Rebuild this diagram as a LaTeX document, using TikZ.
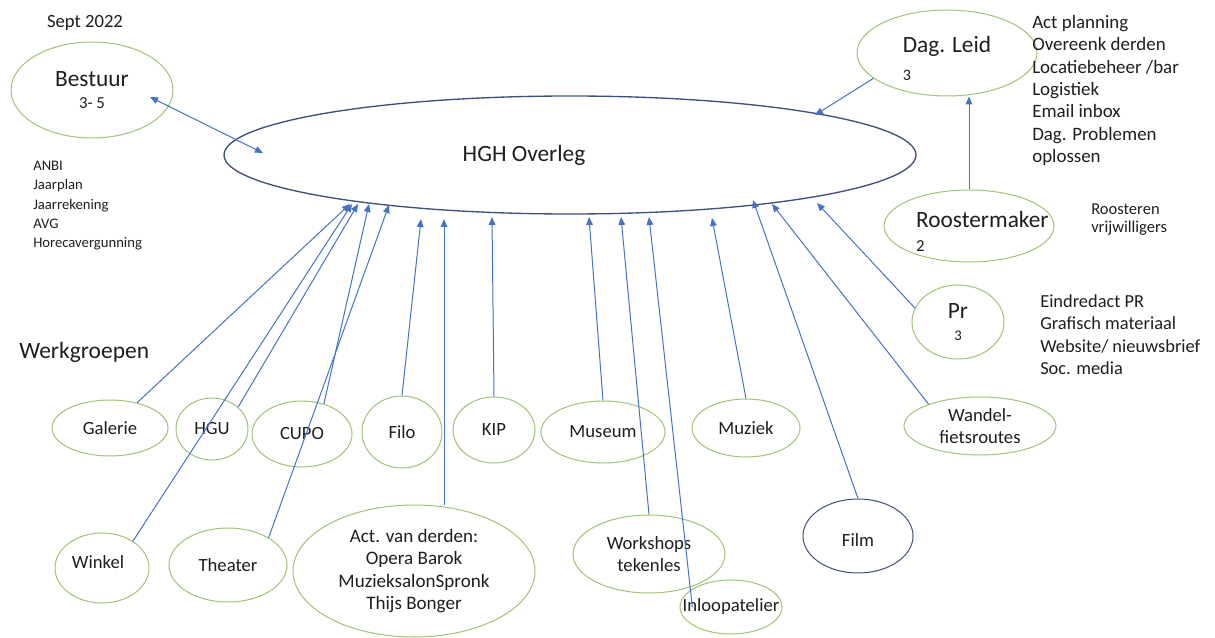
\documentclass[tikz,border=0pt]{standalone}
\usepackage{fontspec}
\setmainfont{Carlito}
\usetikzlibrary{shapes.geometric,arrows.meta}
\definecolor{grpgreen}{RGB}{160,193,118}
\definecolor{navyline}{RGB}{62,80,122}
\definecolor{arrowblue}{RGB}{68,114,196}
\definecolor{txtgray}{RGB}{30,30,30}

\begin{document}
\begin{tikzpicture}[x=0.75pt,y=-0.75pt,
  every node/.style={inner sep=0pt,text=txtgray},
  grp/.style={ellipse,draw=grpgreen,line width=0.75pt},
  sz/.style 2 args={minimum width=#1*0.75pt,minimum height=#2*0.75pt},
  txt/.style={font=\fontsize{14}{17}\selectfont,align=center},
  lst/.style={anchor=north west,align=left},
  >={Triangle[length=6pt,width=5pt]},
  link/.style={arrowblue,line width=0.75pt,->}]
\useasboundingbox (0,0) rectangle (1215,638);

\node[font=\fontsize{14}{17}\selectfont] (sept) at (85,23) {Sept 2022};
\node[grp,sz={162}{96},label={[align=center,font=\fontsize{17.5}{16}\selectfont]center:Bestuur\\{\fontsize{12.6}{14}\selectfont 3- 5}}] (bestuur) at (92,90) {};
\node[lst,font=\fontsize{11}{14.4}\selectfont] (bestlist) at (33,161) {ANBI\\Jaarplan\\Jaarrekening\\AVG\\Horecavergunning};

\node[ellipse,draw=navyline,line width=1pt,sz={692}{118},label={[font=\fontsize{17.5}{21}\selectfont,xshift=-34.5pt]center:HGH Overleg}] (hgh) at (570,155) {};

\node[grp,sz={180}{86},label={[align=left,font=\fontsize{17.5}{21}\selectfont,yshift=-3.75pt]center:Dag. Leid\\{\fontsize{12}{14}\selectfont 3}}] (dag) at (947,53) {};
\node[lst,font=\fontsize{14.2}{16.75}\selectfont] (daglist) at (1032,15) {Act planning\\Overeenk derden\\Locatiebeheer /bar\\Logistiek\\Email inbox\\Dag. Problemen\\oplossen};

\node[grp,sz={170}{72},label={[align=left,font=\fontsize{17.5}{18}\selectfont,xshift=10pt,yshift=-4pt]center:Roostermaker\\{\fontsize{12.6}{14}\selectfont 2}}] (roost) at (969,226) {};
\node[lst,font=\fontsize{12.4}{13}\selectfont] (rooslist) at (1091,204) {Roosteren\\vrijwilligers};

\node[grp,sz={92}{74},label={[align=center,font=\fontsize{17.5}{16.5}\selectfont]center:Pr\\{\fontsize{11}{13}\selectfont 3}}] (pr) at (958,322) {};
\node[lst,font=\fontsize{13.8}{16.9}\selectfont] (prlist) at (1040,294) {Eindredact PR\\Grafisch materiaal\\Website/ nieuwsbrief\\Soc. media};

\node[anchor=west,font=\fontsize{17.6}{21}\selectfont] (werk) at (19,352) {Werkgroepen};

\node[grp,sz={116}{56},label={[txt]center:Galerie}] (gal) at (110,428) {};
\node[grp,sz={72}{62},label={[txt]center:HGU}] (hgu) at (212,429) {};
\node[grp,sz={100}{66},label={[txt]center:CUPO}] (cupo) at (302,434) {};
\node[grp,sz={80}{72},label={[txt]center:Filo}] (filo) at (402,432) {};
\node[grp,sz={82}{66},label={[txt]center:KIP}] (kip) at (494,430) {};
\node[grp,sz={124}{62},label={[txt]center:Museum}] (museum) at (603,432) {};
\node[grp,sz={108}{58},label={[txt]center:Muziek}] (muziek) at (746,428) {};
\node[grp,sz={152}{58},label={[txt]center:{Wandel-\\fietsroutes}}] (wandel) at (980,426) {};
\node[grp,sz={94}{70},label={[txt,xshift=-3pt,yshift=4.5pt]center:Winkel}] (winkel) at (102,568) {};
\node[grp,sz={118}{74},label={[txt]center:Theater}] (theater) at (228,565) {};
\node[grp,sz={242}{132},label={[txt,font=\fontsize{14.3}{16.7}\selectfont]center:{Act. van derden:\\Opera Barok\\MuzieksalonSpronk\\Thijs Bonger}}] (act) at (414,571) {};
\node[grp,sz={152}{78},label={[txt,font=\fontsize{14}{16.5}\selectfont]center:{Workshops\\tekenles}}] (work) at (649,554) {};
\node[grp,sz={102}{54},label={[txt]center:Inloopatelier}] (inloop) at (731,607) {};
\node[ellipse,draw=navyline,line width=0.75pt,sz={110}{74},label={[txt,yshift=-3pt]center:Film}] (film) at (858,536) {};

\coordinate (bIn) at (150,97);
\coordinate (hIn) at (263,153);
\coordinate (tDag) at (815,115);
\coordinate (tGal) at (350,204);
\coordinate (tWin) at (352,204);
\coordinate (tHgu) at (358,204);
\coordinate (tCupo) at (369,204);
\coordinate (tThe) at (389,205);
\coordinate (tFilo) at (421,219);
\coordinate (tAct) at (444,219);
\coordinate (tKip) at (492,217);
\coordinate (tMus) at (589,217);
\coordinate (tWork) at (621,217);
\coordinate (tInl) at (649,217);
\coordinate (tMuz) at (712,218);
\coordinate (tFilm) at (753,200);
\coordinate (tWan) at (772,204);
\coordinate (tPr) at (817,203);

\draw[link,<->] (bIn) -- (hIn);
\draw[link] (dag.199) -- (tDag);
\draw[link] (roost.north) -- (dag.south -| roost.north);
\draw[link] (gal) -- (tGal);
\draw[link] (winkel.41) -- (tWin);
\draw[link] (hgu.40) -- (tHgu);
\draw[link] (cupo.54) -- (tCupo);
\draw[link] (theater.34) -- (tThe);
\draw[link] (filo.north) -- (tFilo);
\draw[link] (act.north -| tAct) -- (tAct);
\draw[link] (kip.north) -- (tKip);
\draw[link] (museum.north) -- (tMus);
\draw[link] (work.north) -- (tWork);
\draw[link] ([xshift=-29pt]inloop.center) -- (tInl);
\draw[link] (muziek.north) -- (tMuz);
\draw[link] (film.north) -- (tFilm);
\draw[link] (wandel.157) -- (tWan);
\draw[link] (pr.162) -- (tPr);
\end{tikzpicture}
\end{document}
